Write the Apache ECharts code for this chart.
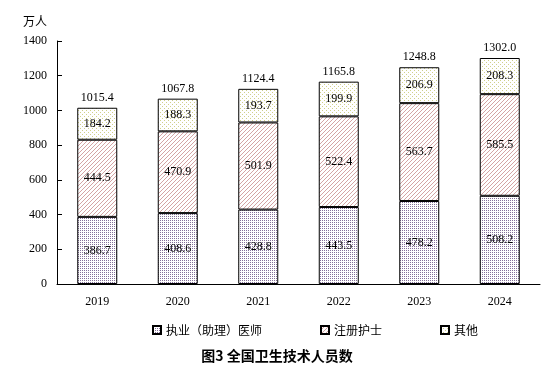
<!DOCTYPE html>
<html><head><meta charset="utf-8">
<script src="https://cdn.jsdelivr.net/npm/echarts@6/dist/echarts.min.js"></script>
<style>html,body{margin:0;padding:0;background:#fff}#c{width:554px;height:374px}</style>
</head><body><div id="c"></div>
<script>
const years = ['2019','2020','2021','2022','2023','2024'];
const doctors = [386.7, 408.6, 428.8, 443.5, 478.2, 508.2];
const nurses = [444.5, 470.9, 501.9, 522.4, 563.7, 585.5];
const others = [184.2, 188.3, 193.7, 199.9, 206.9, 208.3];
const totals = ['1015.4','1067.8','1124.4','1165.8','1248.8','1302.0'];
const seriesNames = ['执业（助理）医师','注册护士','其他'];

function tile(w, h, color, pts) {
  const c = document.createElement('canvas');
  c.width = w; c.height = h;
  const g = c.getContext('2d');
  g.fillStyle = '#ffffff'; g.fillRect(0,0,w,h);
  g.fillStyle = color;
  pts.forEach(p => g.fillRect(p[0], p[1], 1, 1));
  return {image: c, repeat: 'repeat'};
}
const pDoc = tile(2, 2, '#85709a', [[0,0]]);
const pNur = tile(4, 4, '#d4a4a4', [[0,3],[1,2],[2,1],[3,0]]);
const pOth = tile(4, 4, '#d0d08a', [[0,0],[2,2]]);

const serif = 'Liberation Serif';
const lbl = {show:true, position:'inside', color:'#000', fontFamily:serif, fontSize:12,
  formatter: p => p.value.toFixed(1)};
const item = c => ({color:c, borderColor:'#000', borderWidth:1});

const chart = echarts.init(document.getElementById('c'), null, {renderer:'canvas'});
chart.setOption({
  animation:false,
  title:{text:'图3 全国卫生技术人员数', left:'center', top:344,
    textStyle:{fontFamily:'Noto Sans CJK SC', fontWeight:'bold', fontSize:14, color:'#000'}},
  legend:{data:seriesNames, bottom:33, left:147, icon:'rect', itemWidth:8, itemHeight:8, itemGap:58,
    textStyle:{fontFamily:'Noto Sans CJK SC', fontSize:12, color:'#000'}},
  grid:{left:57, right:14, top:41, bottom:90},
  xAxis:{type:'category', data:years,
    axisLine:{lineStyle:{color:'#000'}},
    axisTick:{inside:true, length:6, lineStyle:{color:'#000'}},
    axisLabel:{fontFamily:serif, fontSize:12, color:'#000', margin:12}},
  yAxis:{type:'value', min:0, max:1400, interval:200, name:'万人',
    nameLocation:'end', nameGap:14, nameTextStyle:{fontFamily:'Noto Sans CJK SC', fontSize:12, color:'#000', align:'right', padding:[0,10,0,0]},
    axisLine:{show:true, lineStyle:{color:'#000'}},
    axisTick:{show:true, inside:true, length:5, lineStyle:{color:'#000'}},
    splitLine:{show:false},
    axisLabel:{fontFamily:serif, fontSize:12, color:'#000', margin:10, formatter: v => String(v)}},
  series:[
    {name:seriesNames[0], type:'bar', stack:'a', barWidth:40, data:doctors, itemStyle:item(pDoc), label:lbl},
    {name:seriesNames[1], type:'bar', stack:'a', barWidth:40, data:nurses, itemStyle:item(pNur), label:lbl},
    {name:seriesNames[2], type:'bar', stack:'a', barWidth:40, data:others, itemStyle:item(pOth), label:lbl},
    {name:'合计', type:'bar', stack:'a', barWidth:40, data:years.map(()=>0),
      itemStyle:{color:'transparent', borderWidth:0},
      label:{show:true, position:'top', distance:4, color:'#000', fontFamily:serif, fontSize:12,
        formatter: p => totals[p.dataIndex]}}
  ]
});
</script></body></html>
